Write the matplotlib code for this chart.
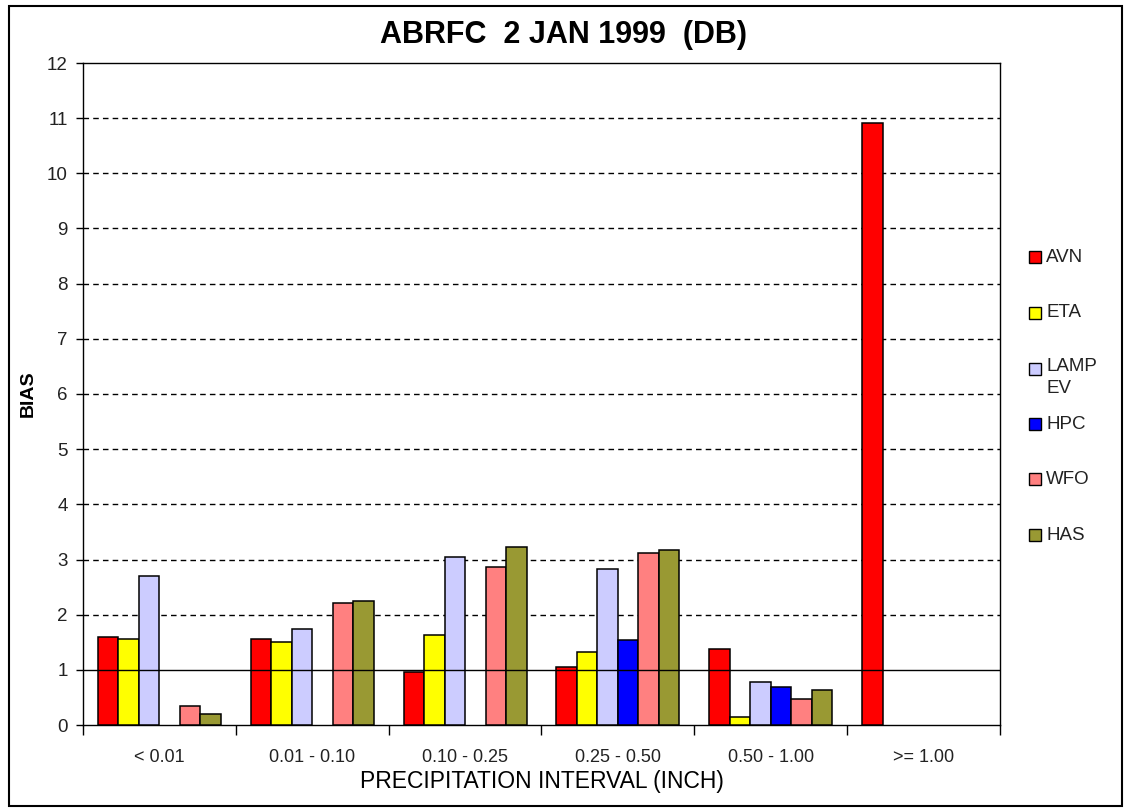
import numpy as np
import matplotlib
matplotlib.use("Agg")
import matplotlib.pyplot as plt
from matplotlib.patches import Rectangle

plt.rcParams['font.family'] = ['Liberation Sans', 'DejaVu Sans']

categories = ["< 0.01", "0.01 - 0.10", "0.10 - 0.25", "0.25 - 0.50", "0.50 - 1.00", ">= 1.00"]
series_names = ["AVN", "ETA", "LAMP\nEV", "HPC", "WFO", "HAS"]
colors = ["#FF0000", "#FFFF00", "#CCCCFF", "#0000FF", "#FF8080", "#999933"]

nan = np.nan
avn = [1.59, 1.56, 0.96, 1.06, 1.38, 10.91]
eta = [1.56, 1.51, 1.64, 1.33, 0.15, nan]
lamp = [2.70, 1.74, 3.05, 2.82, 0.78, nan]
hpc = [nan, nan, nan, 1.54, 0.68, nan]
wfo = [0.35, 2.22, 2.87, 3.12, 0.48, nan]
has = [0.20, 2.24, 3.23, 3.17, 0.63, nan]
values = [avn, eta, lamp, hpc, wfo, has]

fig = plt.figure(figsize=(11.27, 8.09), dpi=100)
ax = fig.add_axes([83/1127, 84/809, 917/1127, 662/809])

x = np.arange(len(categories))
w = 0.134
for i, (vals, c) in enumerate(zip(values, colors)):
    ax.bar(x + (i - 2.5) * w, vals, w, color=c, edgecolor="black", linewidth=1.1, zorder=3)

ax.set_xlim(-0.5, 5.5)
ax.set_ylim(0, 12)
ax.set_yticks(range(0, 13))
for yv in range(2, 12):
    ax.axhline(yv, color="black", linestyle=(0, (4, 3)), linewidth=1, zorder=1)
ax.axhline(1, color="black", linewidth=1, zorder=4)

ax.set_xticks(x)
ax.set_xticklabels(categories, fontsize=13, color="#222222")
ax.set_xticks(np.arange(-0.5, 6, 1), minor=True)
ax.tick_params(axis="x", which="major", length=0, pad=17)
ax.tick_params(axis="x", which="minor", length=7, width=1, direction="out")
ax.tick_params(axis="y", length=5, width=1, direction="out", pad=6, labelsize=13.5, labelcolor="#222222")

for s in ax.spines.values():
    s.set_linewidth(1)
    s.set_color("black")

ax.set_xlabel("PRECIPITATION INTERVAL (INCH)", fontsize=16.5, labelpad=3)
ax.set_ylabel("BIAS", fontsize=14, fontweight="bold", labelpad=7)
fig.text(0.5, 1 - 35/809, "ABRFC  2 JAN 1999  (DB)",
         fontsize=22, fontweight="bold", ha="center", va="center")

# legend
legend_y = [257, 313, 369, 424, 479, 535]
for name, c, yp in zip(series_names, colors, legend_y):
    fig.add_artist(Rectangle((1029/1127, 1 - (yp + 6)/809), 12/1127, 12/809,
                             facecolor=c, edgecolor="black", linewidth=1,
                             transform=fig.transFigure))
    if "\n" in name:
        fig.text(1046/1127, 1 - (yp - 11)/809, name, fontsize=13.5, ha="left", va="top",
                 linespacing=1.4, color="#222222")
    else:
        fig.text(1046/1127, 1 - yp/809, name, fontsize=13.5, ha="left", va="center",
                 color="#222222")

# outer frame
fig.add_artist(Rectangle((9/1127, 3/809), 1113/1127, 800/809, fill=False,
                         edgecolor="black", linewidth=1.5, transform=fig.transFigure))

fig.savefig("out.png", dpi=100)
